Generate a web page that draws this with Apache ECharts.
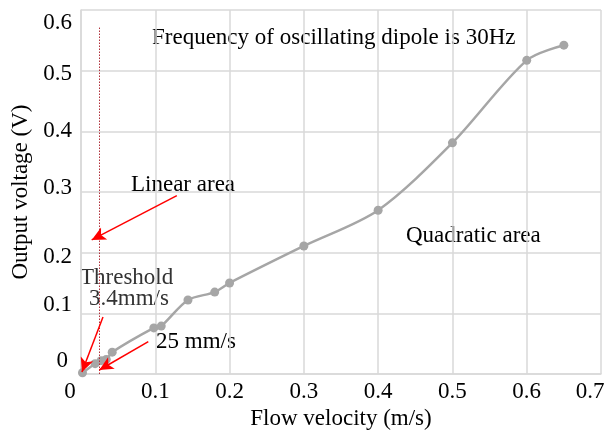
<!DOCTYPE html>
<html>
<head>
<meta charset="utf-8">
<script src="https://cdn.jsdelivr.net/npm/echarts@6/dist/echarts.min.js"></script>
<style>html,body{margin:0;padding:0;background:#fff;}#c{width:604px;height:430px;}</style>
</head>
<body>
<div id="c"></div>
<script>
// Data
var velocity = [0.002, 0.019, 0.027, 0.034, 0.042, 0.098, 0.108, 0.144, 0.18, 0.2, 0.3, 0.4, 0.5, 0.6, 0.65];
var voltage  = [0.002, 0.017, 0.022, 0.024, 0.036, 0.076, 0.079, 0.122, 0.135, 0.15, 0.211, 0.27, 0.381, 0.517, 0.542];
var xTicks = [0, 0.1, 0.2, 0.3, 0.4, 0.5, 0.6, 0.7];
var yTicks = [0, 0.1, 0.2, 0.3, 0.4, 0.5, 0.6];
var thresholdX = 0.025;
var arrows = [
  [[0.129, 0.294], [0.0144, 0.221]],
  [[0.0296, 0.094], [0.0013, 0.0033]],
  [[0.0906, 0.0533], [0.0246, 0.0066]]
];

var FONT = '"Liberation Serif","Times New Roman",serif';
var chart = echarts.init(document.getElementById('c'), null, {renderer: 'canvas'});
var pts = velocity.map(function (v, i) { return [v, voltage[i]]; });
function fmt(v) { return String(Math.round(v * 10) / 10); }

// label nudges (style only) to mimic the reference's hand-placed tick labels
var xRich = {
  z: {padding: [0, 22, 0, 0]},
  e: {padding: [0, 22, 0, 0]},
  n: {}
};
var yRich = {
  p6: {padding: [26, 0, 0, 0]},
  p5: {padding: [6, 0, 0, 0]},
  p4: {},
  p3: {padding: [0, 0, 8, 0]},
  p2: {padding: [8, 0, 0, 0]},
  p1: {padding: [0, 0, 16, 0]},
  p0: {padding: [0, 4, 26, 0]}
};

chart.setOption({
  animation: false,
  backgroundColor: '#fff',
  grid: {left: 81, right: 3, top: 10, bottom: 56, outerBoundsMode: 'none', containLabel: false},
  xAxis: {
    type: 'value', min: xTicks[0], max: xTicks[xTicks.length - 1], interval: 0.1,
    name: 'Flow velocity (m/s)', nameLocation: 'middle', nameGap: 33,
    nameTextStyle: {fontFamily: FONT, fontSize: 23, color: '#000'},
    axisLine: {show: true, lineStyle: {color: '#d9d9d9', width: 1.5}},
    axisTick: {show: false},
    splitLine: {show: true, lineStyle: {color: '#d9d9d9', width: 1.5}},
    axisLabel: {fontFamily: FONT, fontSize: 23, color: '#000', margin: 6, hideOverlap: false,
      rich: Object.keys(xRich).reduce(function (o, k) {
        o[k] = Object.assign({fontFamily: FONT, fontSize: 23, color: '#000'}, xRich[k]); return o; }, {}),
      formatter: function (v) {
        var s = fmt(v);
        var k = (v === xTicks[0]) ? 'z' : (Math.abs(v - xTicks[xTicks.length - 1]) < 1e-9 ? 'e' : 'n');
        return '{' + k + '|' + s + '}';
      }}
  },
  yAxis: {
    type: 'value', min: yTicks[0], max: yTicks[yTicks.length - 1], interval: 0.1,
    name: 'Output voltage (V)', nameLocation: 'middle', nameGap: 48,
    nameTextStyle: {fontFamily: FONT, fontSize: 23, color: '#000'},
    axisLine: {show: true, lineStyle: {color: '#d9d9d9', width: 1.5}},
    axisTick: {show: false},
    splitLine: {show: true, lineStyle: {color: '#d9d9d9', width: 1.5}},
    axisLabel: {fontFamily: FONT, fontSize: 23, color: '#000', margin: 9, hideOverlap: false,
      rich: Object.keys(yRich).reduce(function (o, k) {
        o[k] = Object.assign({fontFamily: FONT, fontSize: 23, color: '#000'}, yRich[k]); return o; }, {}),
      formatter: function (v) {
        return '{p' + Math.round(v * 10) + '|' + fmt(v) + '}';
      }}
  },
  series: [{
    type: 'line',
    data: pts,
    smooth: 0.3,
    symbol: 'circle',
    symbolSize: 9,
    itemStyle: {color: '#a6a6a6'},
    lineStyle: {color: '#a6a6a6', width: 2.5},
    markLine: {
      silent: true,
      animation: false,
      label: {show: false},
      data: [
        [{coord: [thresholdX, 0], symbol: 'none', lineStyle: {color: '#b0303a', width: 1, type: [1.5, 1.5]}},
         {coord: [thresholdX, 0.571], symbol: 'none'}]
      ].concat(arrows.map(function (a) {
        return [{coord: a[0], symbol: 'none', lineStyle: {color: '#ff0000', width: 1.5, type: 'solid'}},
                {coord: a[1], symbol: 'arrow', symbolSize: [10, 14]}];
      }))
    }
  }],
  graphic: [
    {type: 'text', left: 152, top: 26, style: {text: 'Frequency of oscillating dipole is 30Hz', font: '23px ' + FONT, fill: '#000'}},
    {type: 'text', left: 131, top: 173, style: {text: 'Linear area', font: '23px ' + FONT, fill: '#000'}},
    {type: 'text', left: 406, top: 224, style: {text: 'Quadratic area', font: '23px ' + FONT, fill: '#000'}},
    {type: 'text', left: 80, top: 266, style: {text: 'Threshold', font: '23px ' + FONT, fill: '#333'}},
    {type: 'text', left: 89, top: 287, style: {text: '3.4mm/s', font: '23px ' + FONT, fill: '#333'}},
    {type: 'text', left: 156, top: 330, style: {text: '25 mm/s', font: '23px ' + FONT, fill: '#000'}}
  ]
});
</script>
</body>
</html>
